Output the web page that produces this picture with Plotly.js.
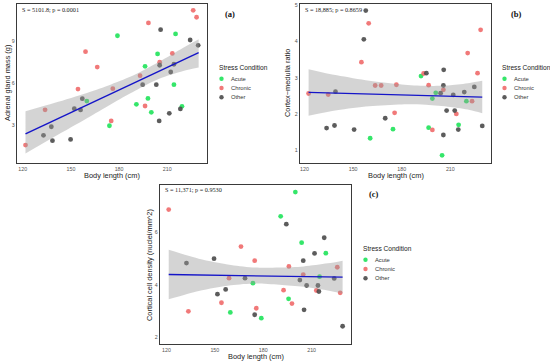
<!DOCTYPE html>
<html>
<head>
<meta charset="utf-8">
<script src="https://cdn.plot.ly/plotly-3.0.1.min.js"></script>
<style>html,body{margin:0;padding:0;background:#fff;}#chart{width:550px;height:363px;}</style>
</head>
<body>
<div id="chart"></div>
<script>
// ---------- data ----------
const groups = ["Acute", "Chronic", "Other"];
const groupColors = ["#1fe35a", "#ef6a6a", "#4a4a4a"];
const xTicks = [120, 150, 180, 210];

// (a) Adrenal gland mass
const aAcuteX = [159.9, 174.0, 179.0, 190.8, 196.2, 198.0, 200.1, 204.0, 214.2, 215.2, 219.2];
const aAcuteY = [4.72, 2.97, 9.35, 4.49, 7.18, 4.91, 3.92, 8.06, 5.88, 9.48, 4.35];
const aChronicX = [121.7, 133.9, 154.4, 159.1, 166.4, 175.1, 176.1, 193.1, 196.2, 198.3, 205.3, 213.2, 226.2, 228.3];
const aChronicY = [1.6, 4.1, 5.57, 8.22, 7.13, 3.31, 5.6, 6.52, 4.37, 10.26, 7.47, 8.1, 11.15, 10.66];
const aOtherX = [132.9, 137.8, 138.5, 149.8, 152.1, 156.0, 157.1, 194.7, 203.2, 205.0, 205.3, 205.9, 211.3, 212.2, 214.2, 218.2, 224.3, 229.3];
const aOtherY = [2.29, 2.9, 1.91, 2.0, 4.18, 4.09, 4.89, 5.88, 5.88, 3.31, 7.26, 9.78, 3.85, 6.78, 7.33, 4.16, 9.05, 8.67];
const aFitX = [121.7, 229.6];
const aFitY = [2.40, 8.15];
const aBandX = [121.7, 140, 160, 175, 190, 205, 220, 229.6];
const aBandHi = [4.0, 4.6, 5.3, 5.9, 6.6, 7.5, 8.5, 9.1];
const aBandLo = [1.0, 2.2, 3.5, 4.5, 5.45, 6.3, 6.85, 7.1];
const aTicksY = [3, 6, 9];

// (b) Cortex-medulla ratio
const bAcuteX = [160.5, 174.6, 191.9, 196.6, 198.9, 201.0, 204.9, 215.1, 219.9];
const bAcuteY = [1.34, 1.59, 3.05, 1.63, 2.43, 2.59, 0.87, 1.71, 2.36];
const bChronicX = [122.5, 134.6, 155.1, 159.6, 163.6, 167.3, 175.6, 176.7, 193.5, 196.6, 198.9, 205.7, 213.7, 220.7, 223.4, 226.8, 228.7];
const bChronicY = [2.57, 2.54, 3.43, 4.5, 2.79, 2.79, 2.04, 2.81, 3.12, 2.8, 1.57, 2.67, 2.01, 3.68, 2.36, 3.13, 4.32];
const bOtherX = [133.6, 138.5, 139.1, 150.6, 156.6, 157.8, 169.8, 195.2, 204.0, 205.7, 205.9, 205.7, 207.7, 211.8, 212.7, 214.9, 218.6, 224.8, 229.7];
const bOtherY = [1.62, 1.69, 2.62, 1.58, 4.06, 4.85, 1.89, 3.13, 2.58, 2.79, 3.22, 1.43, 2.1, 2.53, 2.1, 1.58, 2.61, 2.75, 1.68];
const bFitX = [122.5, 229.7];
const bFitY = [2.60, 2.47];
const bBandX = [122.5, 140, 160, 180, 195, 210, 222, 229.7];
const bBandHi = [3.24, 3.07, 2.92, 2.82, 2.78, 2.8, 2.86, 2.92];
const bBandLo = [1.96, 2.11, 2.22, 2.27, 2.26, 2.2, 2.12, 2.03];
const bTicksY = [1, 2, 3, 4, 5];

// (c) Cortical cell density
const cAcuteX = [159.6, 173.6, 178.8, 190.8, 195.7, 199.9, 203.8, 214.9, 218.8];
const cAcuteY = [2.94, 4.06, 2.72, 6.62, 3.46, 7.55, 5.61, 4.31, 5.21];
const cChronicX = [121.4, 133.6, 154.1, 158.8, 166.2, 174.7, 175.7, 192.6, 195.9, 197.8, 204.8, 212.9, 225.9, 227.7];
const cChronicY = [6.88, 2.98, 3.31, 4.25, 5.46, 4.92, 3.1, 3.79, 4.7, 3.28, 4.39, 3.78, 4.67, 3.69];
const cOtherX = [132.4, 149.5, 151.6, 156.7, 168.7, 174.7, 194.3, 202.7, 204.8, 205.3, 206.9, 211.8, 213.9, 214.5, 217.8, 224.0, 229.2];
const cOtherY = [4.83, 5.0, 3.64, 3.82, 4.25, 2.85, 6.32, 4.18, 4.92, 3.04, 3.97, 5.2, 3.97, 3.74, 5.8, 4.24, 2.41];
const cFitX = [121.4, 229.2];
const cFitY = [4.39, 4.29];
const cBandX = [121.4, 140, 160, 175, 190, 205, 220, 229.2];
const cBandHi = [5.34, 5.0, 4.76, 4.66, 4.66, 4.7, 4.82, 4.92];
const cBandLo = [3.44, 3.76, 3.98, 4.05, 4.0, 3.92, 3.78, 3.66];
const cTicksY = [2, 4, 6];

const statTexts = ["S = 5101.8; p = 0.0001", "S = 18,885; p = 0.8659", "S = 11,371; p = 0.9530"];
const panelTags = ["(a)", "(b)", "(c)"];
const yTitles = ["Adrenal gland mass (g)", "Cortex\u2212medulla ratio", "Cortical cell density (nuclei/mm^2)"];
const xTitle = "Body length (cm)";
const legendTitle = "Stress Condition";

// ---------- layout geometry (pixels) ----------
const W = 550, H = 363;
const P = x => x / W, Q = y => 1 - y / H;
const panels = [
  {x0: 17, x1: 207, y0: 4, y1: 163, xr: [116.4, 234.8], yr: [0.33, 11.6], yt: aTicksY,
   pts: [[aAcuteX, aAcuteY], [aChronicX, aChronicY], [aOtherX, aOtherY]],
   fit: [aFitX, aFitY], band: [aBandX, aBandHi, aBandLo], ytx: 7.5, leg: [217, 67.5], tag: [223, 14]},
  {x0: 300, x1: 491, y0: 4, y1: 163, xr: [117.2, 235.1], yr: [0.66, 5.03], yt: bTicksY,
   pts: [[bAcuteX, bAcuteY], [bChronicX, bChronicY], [bOtherX, bOtherY]],
   fit: [bFitX, bFitY], band: [bBandX, bBandHi, bBandLo], ytx: 287.5, leg: [500, 67.5], tag: [509, 14]},
  {x0: 160, x1: 351, y0: 185, y1: 344, xr: [116.0, 234.4], yr: [1.73, 7.82], yt: cTicksY,
   pts: [[cAcuteX, cAcuteY], [cChronicX, cChronicY], [cOtherX, cOtherY]],
   fit: [cFitX, cFitY], band: [cBandX, cBandHi, cBandLo], ytx: 149.5, leg: [361, 248.5], tag: [367, 194]}
];

const traces = [];
const layout = {
  width: W, height: H, margin: {l: 0, r: 0, t: 0, b: 0},
  paper_bgcolor: "#fff", plot_bgcolor: "#fff", showlegend: false,
  annotations: [], shapes: []
};
const sans = "Liberation Sans, Arial, sans-serif";
const serif = "Liberation Serif, Times New Roman, serif";

panels.forEach((p, i) => {
  const s = i === 0 ? "" : String(i + 1);
  const xa = "x" + s, ya = "y" + s;
  const axBase = {showline: true, mirror: true, linecolor: "#3a3a3a", linewidth: 1.2,
    showgrid: false, zeroline: false, ticks: "", ticklabelstandoff: 0,
    tickfont: {family: sans, size: 5.3, color: "#555"}};
  layout["xaxis" + s] = Object.assign({}, axBase, {domain: [P(p.x0), P(p.x1)], range: p.xr,
    anchor: ya, tickmode: "array", tickvals: xTicks});
  layout["yaxis" + s] = Object.assign({}, axBase, {domain: [Q(p.y1), Q(p.y0)], range: p.yr,
    anchor: xa, tickmode: "array", tickvals: p.yt});

  // points
  p.pts.forEach((g, k) => {
    traces.push({type: "scatter", mode: "markers", x: g[0], y: g[1], xaxis: xa, yaxis: ya,
      name: groups[k], marker: {color: groupColors[k], size: 4.8, opacity: 0.9, line: {width: 0}},
      hoverinfo: "skip"});
  });
  // confidence band
  traces.push({type: "scatter", mode: "lines", x: p.band[0], y: p.band[1], xaxis: xa, yaxis: ya,
    line: {width: 0, shape: "spline", smoothing: 0.8}, hoverinfo: "skip"});
  traces.push({type: "scatter", mode: "lines", x: p.band[0], y: p.band[2], xaxis: xa, yaxis: ya,
    line: {width: 0, shape: "spline", smoothing: 0.8}, fill: "tonexty",
    fillcolor: "rgba(153,153,153,0.42)", hoverinfo: "skip"});
  // fit line
  traces.push({type: "scatter", mode: "lines", x: p.fit[0], y: p.fit[1], xaxis: xa, yaxis: ya,
    line: {color: "#1414c8", width: 1.4}, hoverinfo: "skip"});

  // stat text
  layout.annotations.push({xref: "paper", yref: "paper", x: P(p.x0 + 2.5), y: Q(p.y0 + 5),
    xanchor: "left", yanchor: "middle", showarrow: false, text: statTexts[i],
    font: {family: serif, size: 6.2, color: "#222"}});
  // panel tag
  layout.annotations.push({xref: "paper", yref: "paper", x: P(p.tag[0]), y: Q(p.tag[1]),
    xanchor: "left", yanchor: "middle", showarrow: false, text: "<b>" + panelTags[i] + "</b>",
    font: {family: serif, size: 8.5, color: "#111"}});
  // axis titles
  layout.annotations.push({xref: "paper", yref: "paper", x: P((p.x0 + p.x1) / 2), y: Q(p.y1 + 12),
    xanchor: "center", yanchor: "middle", showarrow: false, text: xTitle,
    font: {family: sans, size: 7.4, color: "#222"}});
  layout.annotations.push({xref: "paper", yref: "paper", x: P(p.ytx), y: Q((p.y0 + p.y1) / 2),
    xanchor: "center", yanchor: "middle", showarrow: false, text: yTitles[i], textangle: -90,
    font: {family: sans, size: 7.4, color: "#222"}});
  // legend
  layout.annotations.push({xref: "paper", yref: "paper", x: P(p.leg[0]), y: Q(p.leg[1]),
    xanchor: "left", yanchor: "middle", showarrow: false, text: legendTitle,
    font: {family: sans, size: 6.6, color: "#222"}});
  groups.forEach((gname, k) => {
    const yy = p.leg[1] + 11.2 + k * 9.3;
    const cx = p.leg[0] + 4.5;
    layout.shapes.push({type: "circle", xref: "paper", yref: "paper",
      x0: P(cx - 2.2), x1: P(cx + 2.2), y0: Q(yy + 2.2), y1: Q(yy - 2.2),
      fillcolor: groupColors[k], line: {width: 0}, opacity: 0.9});
    layout.annotations.push({xref: "paper", yref: "paper", x: P(p.leg[0] + 12), y: Q(yy),
      xanchor: "left", yanchor: "middle", showarrow: false, text: gname,
      font: {family: sans, size: 5.8, color: "#333"}});
  });
});

Plotly.newPlot("chart", traces, layout, {staticPlot: true, displayModeBar: false});
</script>
</body>
</html>
